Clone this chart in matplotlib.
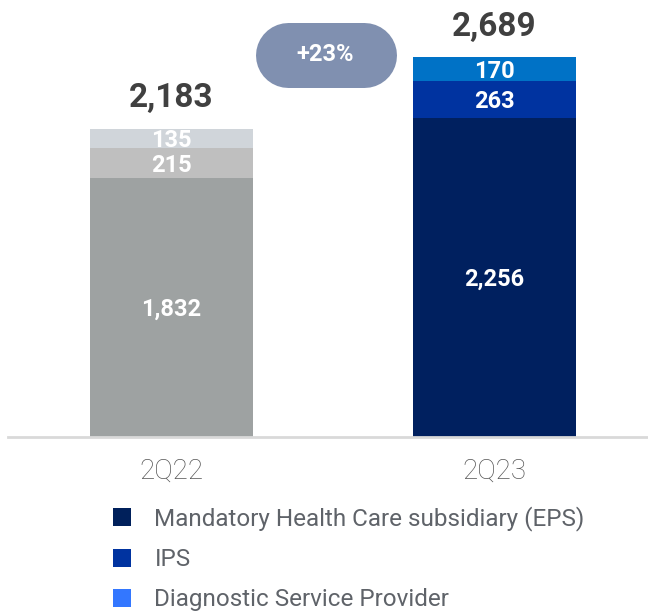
import matplotlib
matplotlib.use("Agg")
import matplotlib.pyplot as plt
from matplotlib.lines import Line2D
from matplotlib.patches import Patch

plt.rcParams['font.family'] = ['Roboto', 'DejaVu Sans']

quarters = ['2Q22', '2Q23']
eps = [1832, 2256]
ips = [215, 263]
diag = [135, 170]
totals = [2183, 2689]
growth = '+23%'

series_names = ['Mandatory Health Care subsidiary (EPS)', 'IPS', 'Diagnostic Service Provider']
colors_22 = ['#9ea2a2', '#bfbfbf', '#d0d5da']
colors_23 = ['#00205f', '#0033a0', '#0072c6']
legend_colors = ['#00205b', '#0033a0', '#3377ff']

W, H = 648, 614
fig = plt.figure(figsize=(W / 100, H / 100), dpi=100)
ax = fig.add_axes([8 / W, 1 - 437 / H, 1 - 8 / W, 437 / H])

x = [0, 1]
w = 0.505
layers = [eps, ips, diag]
bottoms = [0, 0]
for i, vals in enumerate(layers):
    cols = [colors_22[i], colors_23[i]]
    ax.bar(x, vals, width=w, bottom=bottoms, color=cols, zorder=2)
    for xi, v, b in zip(x, vals, bottoms):
        ax.text(xi, b + v / 2 - 15, f'{v:,}', ha='center', va='center',
                color='white', fontsize=17, fontweight='bold', zorder=3)
    bottoms = [b + v for b, v in zip(bottoms, vals)]

for xi, t in zip(x, totals):
    ax.text(xi, t + 215, f'{t:,}', ha='center', va='center',
            color='#404040', fontsize=24, fontweight='bold')

# growth pill: thick line with round caps, in figure pixels
pill_y = 1 - 54.5 / H
fig.add_artist(Line2D([287.5 / W, 363.5 / W], [pill_y, pill_y], transform=fig.transFigure,
                      color='#8090b0', linewidth=65 * 72 / 100, solid_capstyle='round'))
fig.text(325.5 / W, pill_y, growth, ha='center', va='center',
         color='white', fontsize=17, fontweight='bold')

ax.set_xlim(-0.506, 1.475)
ax.set_ylim(0, 437 / 380 * 2689)
ax.set_xticks(x)
ax.set_xticklabels(quarters, fontsize=20, color='#555555', fontweight='light')
ax.tick_params(axis='x', length=0, pad=15)
ax.set_yticks([])
for s in ['top', 'right', 'left']:
    ax.spines[s].set_visible(False)
ax.spines['bottom'].set_color('#d9d9d9')
ax.spines['bottom'].set_linewidth(2)

handles = [Patch(facecolor=c, edgecolor='none') for c in legend_colors]
fig.legend(handles, series_names, loc='upper left', bbox_to_anchor=(101 / W, 1 - 494 / H),
           frameon=False, fontsize=17.5, labelcolor='#5f6369', handlelength=0.75,
           handleheight=0.75, handletextpad=0.95, labelspacing=0.7, borderpad=0)

fig.savefig('out.png', dpi=100)
